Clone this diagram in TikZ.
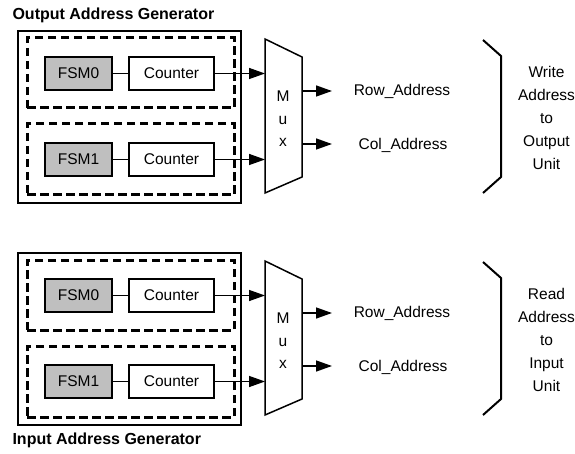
\documentclass[tikz,border=0pt]{standalone}
\usepackage{fontspec}
\setmainfont{Liberation Sans}
\usetikzlibrary{arrows.meta}
\tikzset{
  txt/.style={font=\fontsize{15.5}{18}\selectfont},
  blk/.style={draw, line width=1.2pt, minimum height=33pt, inner sep=0pt, txt},
  fsmbox/.style={blk, fill=gray!50, minimum width=67pt},
  cntbox/.style={blk, fill=white, minimum width=85pt},
  grpbox/.style={draw, line width=3pt, dash pattern=on 8.5pt off 4.5pt, minimum width=207pt, inner sep=0pt},
  outerbox/.style={draw, line width=1.5pt, minimum width=223pt, minimum height=172pt, inner sep=0pt},
  sig/.style={-{Triangle[length=16pt,width=11pt]}, line width=1.4pt},
  link/.style={line width=1.2pt},
  muxline/.style={line width=1.5pt, line join=miter},
  brace/.style={line width=2pt},
  ttl/.style={anchor=west, font=\bfseries\fontsize{16}{18}\selectfont},
}
\begin{document}
\begin{tikzpicture}[x=1pt,y=-1pt]
\useasboundingbox (0,0) rectangle (575,454);

\node[ttl] (ttlw) at (9,15) {Output Address Generator};
\node[ttl] (ttlr) at (9,440) {Input Address Generator};

\foreach \k/\dy/\act/\unit in {w/0/Write/Output, r/222/Read/Input} {
  \begin{scope}[yshift=-\dy pt]
    % generator frame and its two FSM/counter pairs
    \node[outerbox] (outer\k) at (129.5,117) {};
    \node[grpbox, minimum height=70pt] (grpa\k) at (130.5,73) {};
    \node[grpbox, minimum height=71pt] (grpb\k) at (130.5,159.5) {};
    \node[fsmbox] (fsma\k) at (78.5,73.5) {FSM0};
    \node[cntbox] (cnta\k) at (171.5,73.5) {Counter};
    \node[fsmbox] (fsmb\k) at (78.5,159.5) {FSM1};
    \node[cntbox] (cntb\k) at (171.5,159.5) {Counter};
    \draw[link] (fsma\k) -- (cnta\k);
    \draw[link] (fsmb\k) -- (cntb\k);

    % multiplexer
    \draw[muxline] (265,39) -- (302,57) -- (302,177) -- (265,193) -- cycle;
    \node[txt, align=center, font=\fontsize{15.5}{22.5}\selectfont] (muxl\k) at (283,119) {M\\u\\x};
    \coordinate (muxia\k) at (265,73.5);
    \coordinate (muxib\k) at (265,159.5);
    \coordinate (muxoa\k) at (302,91);
    \coordinate (muxob\k) at (302,144);
    \draw[sig] (cnta\k.east) -- (muxia\k);
    \draw[sig] (cntb\k.east) -- (muxib\k);

    % outputs
    \node[txt] (row\k) at (402,91) {Row\_Address};
    \node[txt] (col\k) at (403,145) {Col\_Address};
    \coordinate (rowt\k) at (332,91);
    \coordinate (colt\k) at (332,144);
    \draw[sig] (muxoa\k) -- (rowt\k);
    \draw[sig] (muxob\k) -- (colt\k);

    % bracket and destination
    \draw[brace] (483,40) -- (501,56) -- (501,177) -- (483,193);
    \node[align=center, font=\fontsize{15.5}{23}\selectfont] (dest\k) at (546.5,118) {\act\\Address\\to\\\unit\\Unit};
  \end{scope}
}
\end{tikzpicture}
\end{document}
